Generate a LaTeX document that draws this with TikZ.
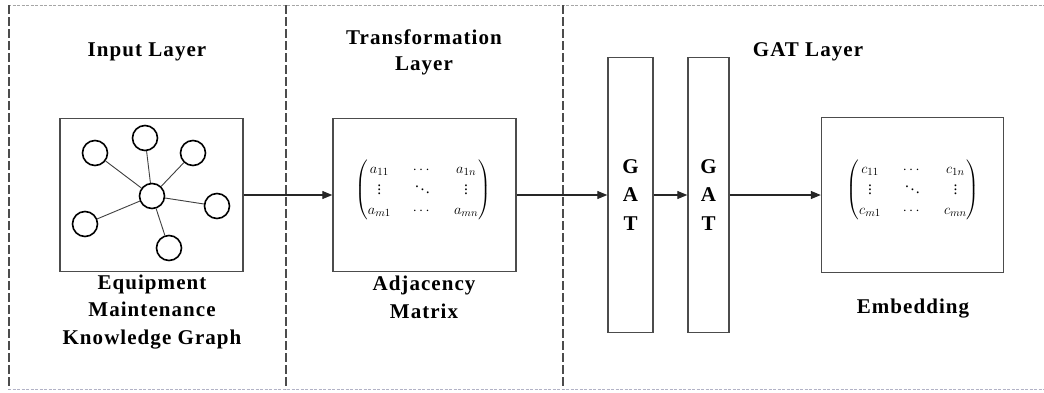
\documentclass[tikz,border=0pt]{standalone}
\usepackage{amsmath}
\usepackage{fontspec}
\setmainfont{Liberation Serif}[LetterSpace=5]
\usetikzlibrary{arrows.meta}

\newcommand{\spreadmatrix}[1]{{\setlength{\arraycolsep}{11pt}\renewcommand{\arraystretch}{1.05}$\begin{pmatrix}#1\end{pmatrix}$}}

\begin{document}
\begin{tikzpicture}[x=1pt,y=-1pt,
  boxframe/.style={draw=black!70, line width=1.4pt, fill=white, rectangle, inner sep=0pt},
  layertitle/.style={font=\fontsize{21}{26}\selectfont\bfseries, align=center},
  caption/.style={font=\fontsize{21}{27.5}\selectfont\bfseries, align=center},
  kgnode/.style={circle, draw=black, line width=1.6pt, minimum size=25pt, inner sep=0pt, fill=white},
  kgedge/.style={draw=black!75, line width=0.9pt},
  flow/.style={draw=black!85, line width=1.1pt, -{Triangle[length=10pt,width=8pt]}},
  divider/.style={draw=black!70, line width=1.3pt, dash pattern=on 9pt off 3pt},
  frameline/.style={draw=black!35, line width=0.8pt, dash pattern=on 3pt off 1.5pt},
  matfont/.style={font=\fontsize{15.5}{18.5}\selectfont, inner sep=0pt},
]
% canvas
\path[fill=white] (0,0) rectangle (1044,392);
\useasboundingbox (0,0) rectangle (1044,392);

% outer frame and layer dividers
\coordinate (tl) at (8,5);
\coordinate (tr) at (1044,5);
\coordinate (bl) at (8,389);
\coordinate (br) at (1044,389);
\draw[frameline] (tl) -- (tr);
\draw[frameline, draw=blue!25!black!30] (bl) -- (br);
\coordinate (lt) at (9,5);
\coordinate (lb) at (9,389);
\draw[divider] (lt) -- (lb);
\coordinate (d1t) at (286,5);
\coordinate (d1b) at (286,389);
\draw[divider] (d1t) -- (d1b);
\coordinate (d2t) at (563,5);
\coordinate (d2b) at (563,389);
\draw[divider] (d2t) -- (d2b);

% layer titles
\node[layertitle] (tin) at (147,52) {Input Layer};
\node[layertitle] (ttr) at (424,52) {Transformation\\Layer};
\node[layertitle] (tgat) at (808,52) {GAT Layer};

% main blocks
\node[boxframe, minimum width=183pt, minimum height=153pt] (kg) at (151.5,195) {};
\node[boxframe, minimum width=183pt, minimum height=153pt] (adj) at (424.5,195) {};
\node[boxframe, minimum width=45pt, minimum height=275pt, font=\fontsize{21}{28.5}\selectfont\bfseries, align=center] (gat1) at (630.5,195) {G\\A\\T};
\node[boxframe, minimum width=41pt, minimum height=275pt, font=\fontsize{21}{28.5}\selectfont\bfseries, align=center] (gat2) at (708.5,195) {G\\A\\T};
\node[boxframe, minimum width=182pt, minimum height=155pt] (emb) at (912.5,195) {};

% knowledge graph: one hub and six neighbours
\node[kgnode] (hub) at (152,196) {};
\node[kgnode] (n1) at (95,153) {};
\node[kgnode] (n2) at (145,138) {};
\node[kgnode] (n3) at (193,153) {};
\node[kgnode] (n4) at (217,206) {};
\node[kgnode] (n5) at (85,224) {};
\node[kgnode] (n6) at (169,248) {};
\foreach \n in {n1,n2,n3,n4,n5,n6}
  \draw[kgedge] (hub) -- (\n);

% matrices
\node[matfont] (amat) at (423,190) {\spreadmatrix{a_{11} & \cdots & a_{1n}\\ \vdots & \ddots & \vdots\\ a_{m1} & \cdots & a_{mn}}};
\node[matfont] (cmat) at (913,190) {\spreadmatrix{c_{11} & \cdots & c_{1n}\\ \vdots & \ddots & \vdots\\ c_{m1} & \cdots & c_{mn}}};

% captions
\node[caption] (ckg) at (152,312) {Equipment\\Maintenance\\Knowledge Graph};
\node[caption] (cadj) at (424,297.5) {Adjacency\\Matrix};
\node[caption] (cemb) at (913,309) {Embedding};

% data flow
\draw[flow] (kg.east) -- (adj.west);
\draw[flow] (adj.east) -- (gat1.west);
\draw[flow] (gat1.east) -- (gat2.west);
\draw[flow] (gat2.east) -- (emb.west);
\end{tikzpicture}
\end{document}
